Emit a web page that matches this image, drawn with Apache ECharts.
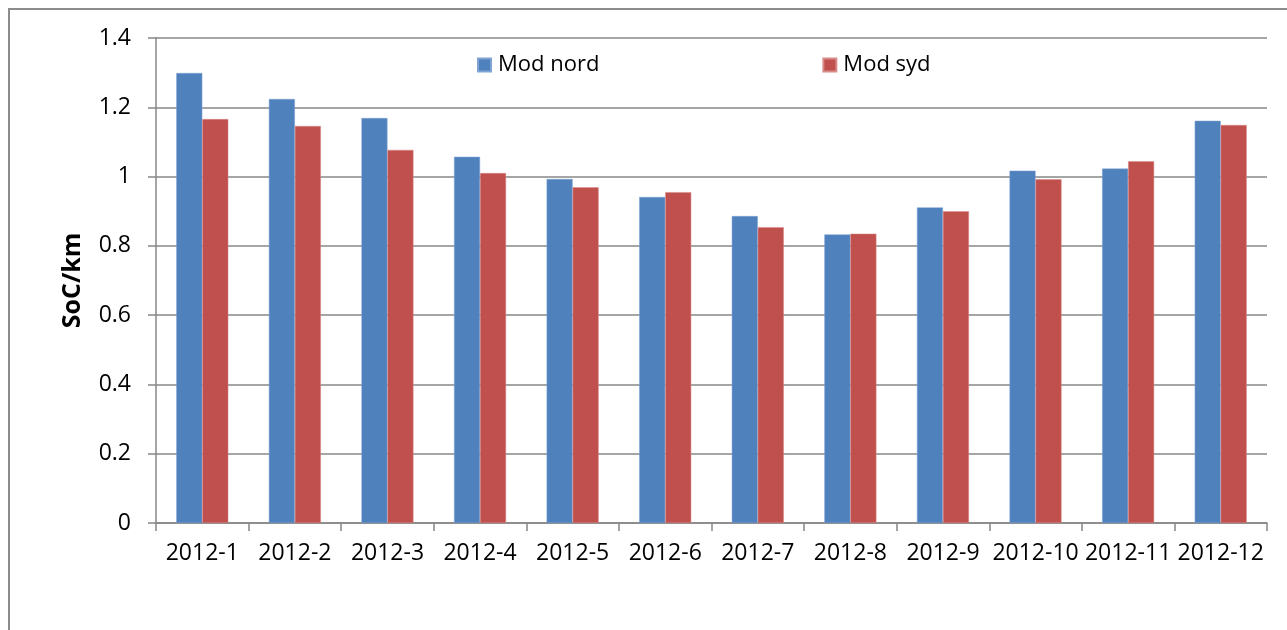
<!DOCTYPE html>
<html>
<head>
<meta charset="utf-8">
<script src="https://cdn.jsdelivr.net/npm/echarts@6/dist/echarts.min.js"></script>
<style>
    html, body { margin: 0; padding: 0; background: #fff; }
    #frame {
        position: absolute; left: 8px; top: 8px; width: 1400px; height: 700px;
        border-left: 2px solid #8c8c8c; border-top: 2px solid #8c8c8c;
        box-sizing: border-box;
    }
    #chart { position: absolute; left: 0; top: 0; width: 1287px; height: 630px; }
</style>
</head>
<body>
<div id="frame"></div>
<div id="chart"></div>
<script>
// 月份
const months = ['2012-1', '2012-2', '2012-3', '2012-4', '2012-5', '2012-6',
    '2012-7', '2012-8', '2012-9', '2012-10', '2012-11', '2012-12']
const nord = [1.299, 1.224, 1.169, 1.057, 0.993, 0.941, 0.886, 0.833, 0.911, 1.017, 1.023, 1.161]
const syd = [1.166, 1.146, 1.077, 1.010, 0.969, 0.955, 0.854, 0.835, 0.900, 0.992, 1.044, 1.149]
const yTicks = [0, 0.2, 0.4, 0.6, 0.8, 1, 1.2, 1.4]

const font = '"Open Sans", "Liberation Sans", sans-serif'
const gray = '#878787'

const chart = echarts.init(document.getElementById('chart'))

const option = {
    backgroundColor: 'transparent',
    animation: false,
    textStyle: { fontFamily: font },
    grid: {
        left: 156,
        right: 20,
        top: 38,
        bottom: 107
    },
    legend: {
        top: 49,
        left: 472,
        itemGap: 223,
        itemWidth: 13,
        itemHeight: 13,
        icon: 'rect',
        textStyle: {
            fontFamily: font,
            fontSize: 22,
            color: '#000',
            padding: [0, 0, 0, 2]
        },
        data: ['Mod nord', 'Mod syd']
    },
    xAxis: {
        type: 'category',
        data: months,
        axisLine: { lineStyle: { color: gray, width: 1.5 } },
        axisTick: { show: true, length: 8, lineStyle: { color: gray, width: 1.5 } },
        axisLabel: {
            interval: 0,
            color: '#000',
            fontSize: 23,
            fontFamily: font,
            margin: 19
        }
    },
    yAxis: {
        type: 'value',
        min: yTicks[0],
        max: yTicks[yTicks.length - 1],
        interval: 0.2,
        name: 'SoC/km',
        nameLocation: 'middle',
        nameGap: 71,
        nameTextStyle: {
            fontFamily: font,
            fontSize: 25,
            fontWeight: 'bold',
            color: '#000'
        },
        axisLine: { show: true, lineStyle: { color: gray, width: 1.5 } },
        axisTick: { show: true, length: 8, lineStyle: { color: gray, width: 1.5 } },
        axisLabel: {
            color: '#000',
            fontSize: 23,
            fontFamily: font,
            margin: 25,
            formatter: v => String(Math.round(v * 10) / 10)
        },
        splitLine: { lineStyle: { color: gray, width: 1.5 } }
    },
    series: [{
        name: 'Mod nord',
        type: 'bar',
        data: nord,
        barWidth: 26,
        barGap: 0,
        itemStyle: { color: '#4F81BD', borderColor: '#7ea3d4', borderWidth: 0.5 }
    }, {
        name: 'Mod syd',
        type: 'bar',
        data: syd,
        barWidth: 26,
        barGap: 0,
        itemStyle: { color: '#C0504D', borderColor: '#d98b89', borderWidth: 0.5 }
    }]
}

chart.setOption(option)
</script>
</body>
</html>
